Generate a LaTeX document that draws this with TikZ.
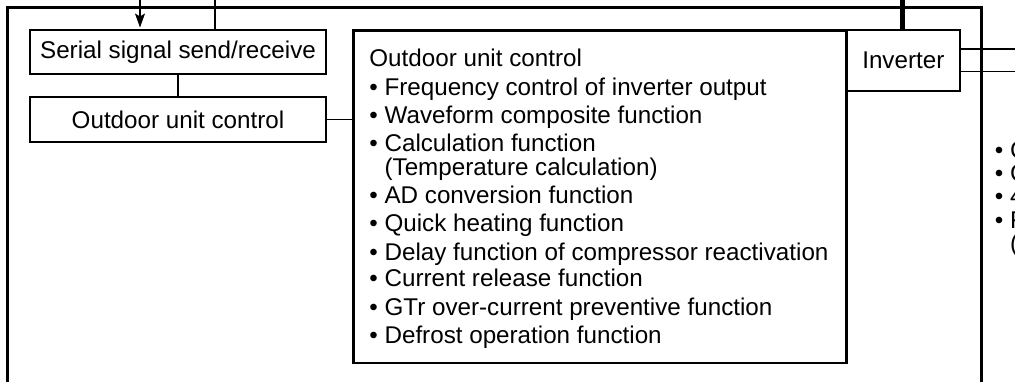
\documentclass[tikz,border=0pt]{standalone}
\usepackage{fontspec}
\setmainfont{Liberation Sans}
\usetikzlibrary{arrows.meta}
\tikzset{
  box/.style={draw, line width=1.3pt, inner sep=0pt},
  wire/.style={line width=0.6pt},
  txt/.style={anchor=base west, inner sep=0pt}
}
\begin{document}
\begin{tikzpicture}[x=0.5pt, y=-0.5pt, font=\fontsize{12.1}{14}\selectfont]
\useasboundingbox (0,0) rectangle (1015,381);
\clip (0,0) rectangle (1015,381);
\draw[line width=1.3pt] (7.3,395) -- (7.3,7.5) -- (981.7,7.5) -- (981.7,395);
\node[box, minimum width=148pt, minimum height=22pt] (ssr) at (178,52) {Serial signal send/receive};
\node[box, minimum width=148pt, minimum height=22.5pt] (ouc) at (178,119.5) {Outdoor unit control};
\node[box, minimum width=246.6pt, minimum height=166.15pt] (ctrl) at (600.1,196.85) {};
\node[box, minimum width=56.7pt, minimum height=30.5pt] (inv) at (903.3,60.5) {Inverter};
\coordinate (in1) at (140,0);
\coordinate (in2) at (215,0);
\coordinate (pw) at (902.7,0);
\coordinate (o1) at (1015,49);
\coordinate (o2) at (1015,71.7);
\draw[wire, -{Stealth[length=7pt,width=5pt,inset=1.5pt]}, shorten >=0.6pt] (in1) -- (in1 |- ssr.north);
\draw[wire] (in2) -- (in2 |- ssr.north);
\draw[wire] (ssr) -- (ouc);
\draw[wire] (ouc.east) -- (ouc.east -| ctrl.west);
\draw[line width=2.6pt] (pw) -- (pw |- inv.north);
\draw[wire] (inv.east |- o1) -- (o1);
\draw[wire] (inv.east |- o2) -- (o2);
\foreach \y/\t [count=\i] in {66.7/Outdoor unit control,
    95/\textbullet\ Frequency control of inverter output,
    123.3/\textbullet\ Waveform composite function,
    151.7/\textbullet\ Calculation function,
    175/\hphantom{\textbullet\ }(Temperature calculation),
    203.3/\textbullet\ AD conversion function,
    231.7/\textbullet\ Quick heating function,
    260/\textbullet\ Delay function of compressor reactivation,
    286.7/\textbullet\ Current release function,
    315/\textbullet\ GTr over-current preventive function,
    343.3/\textbullet\ Defrost operation function}
  \node[txt] (l\i) at (369,\y) {\t};
\foreach \y/\t [count=\i] in {158/\textbullet\ C, 181.3/\textbullet\ C,
    204.7/\textbullet\ 4, 228/\textbullet\ F, 251.3/\hphantom{\textbullet\ }(}
  \node[txt] (r\i) at (994.5,\y) {\t};
\end{tikzpicture}
\end{document}
